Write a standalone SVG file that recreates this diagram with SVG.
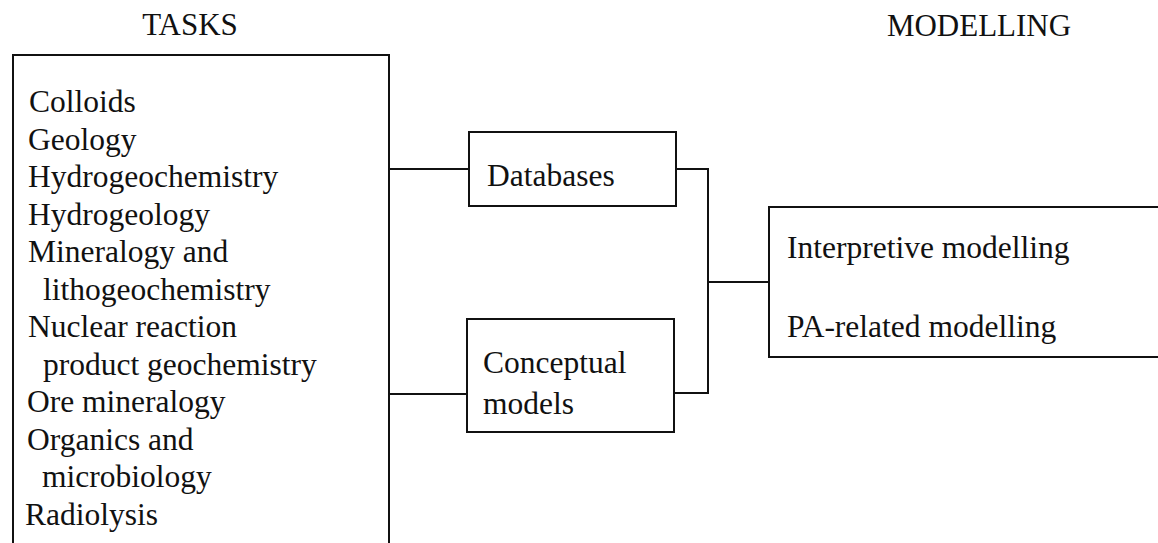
<svg xmlns="http://www.w3.org/2000/svg" width="1158" height="543" viewBox="0 0 1158 543">
  <style>
    .box { fill: none; stroke: #111; stroke-width: 2; }
    .wire { fill: none; stroke: #111; stroke-width: 2; }
    text { font-family: "Liberation Serif", "Times New Roman", serif; font-size: 31.5px; fill: #111; }
    .head { font-size: 31px; text-anchor: middle; }
  </style>
  <rect width="1158" height="543" fill="#fff"/>

  <!-- column headings -->
  <text class="head" x="190" y="35">TASKS</text>
  <text class="head" x="979" y="36">MODELLING</text>

  <!-- connectors -->
  <g id="connectors">
    <path class="wire" d="M388 169 H469"/>
    <path class="wire" d="M388 394 H467"/>
    <path class="wire" d="M676 169 H708 V393 H674"/>
    <path class="wire" d="M707 282 H769"/>
  </g>

  <!-- tasks list (box runs off the bottom edge) -->
  <g id="tasks">
    <path class="box" d="M13 560 V55 H389 V560"/>
    <text x="29" y="112">Colloids</text>
    <text x="28" y="149.5">Geology</text>
    <text x="28" y="187">Hydrogeochemistry</text>
    <text x="28" y="224.5">Hydrogeology</text>
    <text x="28" y="262">Mineralogy and</text>
    <text x="43" y="299.5">lithogeochemistry</text>
    <text x="28" y="337">Nuclear reaction</text>
    <text x="43" y="374.5">product geochemistry</text>
    <text x="27" y="412">Ore mineralogy</text>
    <text x="27" y="449.5">Organics and</text>
    <text x="42" y="487">microbiology</text>
    <text x="25" y="524.5">Radiolysis</text>
  </g>

  <g id="databases">
    <rect class="box" x="469" y="132" width="207" height="74"/>
    <text x="487" y="186">Databases</text>
  </g>

  <g id="conceptual-models">
    <rect class="box" x="467" y="319" width="207" height="113"/>
    <text x="483" y="373">Conceptual</text>
    <text x="483" y="414">models</text>
  </g>

  <!-- modelling box (runs off the right edge) -->
  <g id="modelling">
    <path class="box" d="M1170 207 H769 V357 H1170"/>
    <text x="787" y="258">Interpretive modelling</text>
    <text x="787" y="337">PA-related modelling</text>
  </g>
</svg>
